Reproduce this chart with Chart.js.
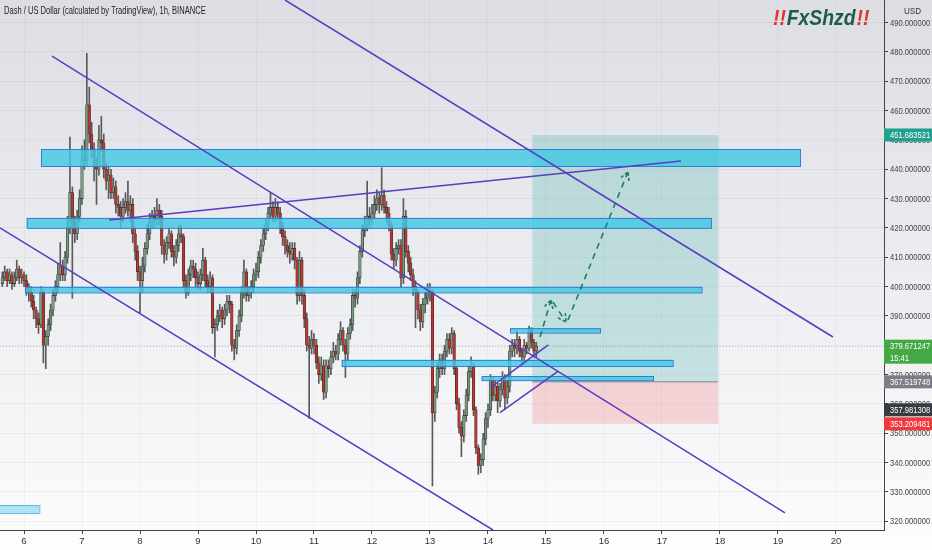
<!DOCTYPE html>
<html>
<head>
<meta charset="utf-8">
<title>DASHUSD 1h</title>
<script src="https://cdn.jsdelivr.net/npm/chart.js@4.4.1/dist/chart.umd.min.js"></script>
<style>
  html, body { margin: 0; padding: 0; background: #fff; }
  #wrap { width: 932px; height: 550px; }
</style>
</head>
<body>
<div id="wrap"><canvas id="chart" width="932" height="550"></canvas></div>
<script>
// Dash / US Dollar, hourly candles, first candle Dec 5 15:00 (day 5.625)
const firstHour = 5.625;

// closes, one row per day
const closes = [
  403,405,402,404,401,403,406,403,404,
  402,399,398,395,392,389,387,398,380,383,387,392,397,400,404,407,404,410,420,432,422,418,424,430,
  444,443,462,452,447,441,440,450,449,440,436,438,432,434,428,427,424,427,429,426,428,418,412,405,
  402,407,413,418,422,424,423,426,424,414,411,415,418,412,410,414,418,417,402,398,404,407,406,403,
  401,404,409,402,400,403,386,387,390,392,389,392,395,394,380,379,385,390,398,405,397,398,400,404,
  405,410,414,418,421,425,427,424,427,425,420,417,414,412,411,413,409,397,409,397,389,380,379,382,
  380,374,370,373,364,373,372,376,378,377,382,385,380,377,384,387,397,396,403,412,419,421,424,423,
  425,428,430,428,431,427,425,421,411,409,413,414,403,424,412,408,404,400,398,392,388,394,396,398,
  398.5,357,364,372,375,372,378,382,379,384,372,360,352,349,356,363,371,373,358,345,339,341,348,355,
  358,368,363,366,361,365,369,362,366,378,380,379,382,378,376,380,379,385,381,378,379.671247
];
const highs = [
  405,407,406,406,405,405,409,407,406,
  405,404,401,400,397,393,391,400,399,385,389,394,399,402,408,415,409,412,424,451,434,424,426,433,
  448,450,479.5,468,456,449,444,455,458,452,442,441,440,437,436,431,429,430,432,436,431,430,420,414,
  407,410,415,421,425,426,427,430,428,426,416,417,420,419,414,416,421,421,418,404,406,409,409,408,
  405,406,413,410,404,405,404,389,392,394,393,394,397,397,395,382,387,392,400,409,406,400,402,406,
  408,412,416,420,423,427,432,429,430,429,427,422,419,416,415,415,415,410,412,410,399,391,383,385,
  384,382,376,376,375,375,375,378,381,380,384,388,386,382,386,389,399,399,405,414,421,424,436,427,
  428,431,433,432,440.5,433,429,427,422,413,415,416,416,430,426,414,410,406,402,399,394,396,398,401,
  401,399,366,374,377,377,380,384,384,386,385,373,362,354,358,365,373,376,374,359,346,343,350,357,
  360,370,369,368,367,367,371,370,368,380,382,382,385,383,379,382,381,386.5,386,382,381
];
const lows = [
  400,402,400,401,399,400,402,401,401,
  400,397,395,393,389,386,384,386,374,372,380,385,390,395,398,402,402,402,408,418,396,415,416,422,
  428,440,441,449,444,436,428,438,446,437,433,430,430,430,425,424,420,422,425,424,422,415,409,402,
  391,398,405,411,416,420,420,421,421,411,408,409,413,410,407,408,412,415,400,396,397,402,403,400,
  399,399,402,400,398,398,384,376,385,388,386,387,390,391,378,375,377,383,388,396,395,395,396,398,
  402,403,408,412,416,419,423,422,422,423,418,414,411,410,408,409,406,394,395,394,386,378,355,377,
  377,372,367,368,361.5,362,369,370,374,375,375,380,378,369,375,382,385,393,394,401,410,417,419,420,
  421,423,426,425,426,425,422,419,409,406,407,411,400,401,410,405,402,397,386,389,385,386,391,394,
  395,332,354,362,369,370,370,376,377,377,370,358,350,342,347,354,361,369,356,343,336,336.5,339,346,
  352,356,361,361,357,359,363,358,360,364,376,376,377,376,373,374,377,378,379,376,376
];
const firstOpen = 401;

// axis
const dayTicks = [6, 7, 8, 9, 10, 11, 12, 13, 14, 15, 16, 17, 18, 19, 20];

// drawings: [day, price] end points
const trendLines = [
  [[10.5, 497.7], [19.948, 382.8]],
  [[6.483, 478.6], [19.121, 322.8]],
  [[5.586, 420.0], [14.086, 317.0]],
  [[7.466, 422.7], [17.328, 442.8]],
  [[14.064, 365.9], [15.040, 380.1]],
  [[14.207, 357.0], [15.212, 371.2]]
];
// zones: [dayFrom, dayTo, priceTop, priceBottom]
const zones = [
  [6.293, 19.379, 446.9, 441.1],
  [6.047, 17.845, 423.4, 420.0],
  [6.017, 17.681, 399.9, 398.0],
  [14.379, 15.931, 385.8, 384.3],
  [11.478, 17.184, 375.0, 372.9],
  [13.891, 16.845, 369.5, 368.1]
];
const oldZone = [5.5, 6.264, 325.5, 322.8];
// long position
const posFrom = 14.764, posTo = 17.97;
const posTarget = 451.683521, posEntry = 367.519748, posStop = 353.209481;
const lastPrice = 379.671247;
const projection = [
  [[14.897, 382.8], [15.086, 395.4]],
  [[15.121, 394.7], [15.345, 387.9]],
  [[15.379, 388.6], [16.414, 439.1]]
];
const priceLabels = [
  [451.683521, '451.683521', '#22a08e'],
  [367.519748, '367.519748', '#7b7e87'],
  [357.981308, '357.981308', '#383b43'],
  [353.209481, '353.209481', '#f0393d'],
  [379.671247, '379.671247', '#45a847']
];

const times = closes.map((c, i) => firstHour + i / 24);
const opens = closes.map((c, i) => i === 0 ? firstOpen : closes[i - 1]);

const fontFamily = "'Liberation Sans', Arial, sans-serif";

// text squeezed horizontally, the TradingView font is narrow
function squeezed(ctx, text, x, y, sx) {
  ctx.save();
  ctx.translate(x, y);
  ctx.scale(sx, 1);
  ctx.fillText(text, 0, 0);
  ctx.restore();
}

const overlay = {
  id: 'overlay',
  beforeDraw(chart) {
    const ctx = chart.ctx;
    const g = ctx.createLinearGradient(0, 0, 0, 530);
    g.addColorStop(0, '#dcdee4');
    g.addColorStop(1, '#fbfbfc');
    ctx.save();
    ctx.fillStyle = g;
    ctx.fillRect(0, 0, chart.width, 530);
    ctx.fillStyle = '#fdfdfd';
    ctx.fillRect(0, 530, chart.width, chart.height - 530);
    ctx.restore();
  },
  beforeDatasetsDraw(chart) {
    const ctx = chart.ctx, xs = chart.scales.x, ys = chart.scales.y, a = chart.chartArea;
    ctx.save();
    ctx.beginPath();
    ctx.rect(a.left, a.top, a.right - a.left, a.bottom - a.top);
    ctx.clip();
    const x0 = xs.getPixelForValue(posFrom), x1 = xs.getPixelForValue(posTo);
    const yT = ys.getPixelForValue(posTarget), yE = ys.getPixelForValue(posEntry), yS = ys.getPixelForValue(posStop);
    ctx.fillStyle = 'rgba(38,166,154,0.22)';
    ctx.fillRect(x0, yT, x1 - x0, yE - yT);
    ctx.fillStyle = 'rgba(242,54,69,0.18)';
    ctx.fillRect(x0, yE, x1 - x0, yS - yE);
    ctx.strokeStyle = 'rgba(110,112,120,0.8)';
    ctx.lineWidth = 1;
    ctx.beginPath();
    ctx.moveTo(x0, yE); ctx.lineTo(x1, yE);
    ctx.stroke();
    // last price line
    const yL = Math.round(ys.getPixelForValue(lastPrice)) + 0.5;
    ctx.strokeStyle = 'rgba(120,120,120,0.45)';
    ctx.setLineDash([1, 2]);
    ctx.beginPath();
    ctx.moveTo(a.left, yL); ctx.lineTo(a.right, yL);
    ctx.stroke();
    ctx.restore();
  },
  afterDatasetsDraw(chart) {
    const ctx = chart.ctx, xs = chart.scales.x, ys = chart.scales.y, a = chart.chartArea;
    const px = v => xs.getPixelForValue(v), py = v => ys.getPixelForValue(v);
    ctx.save();
    ctx.beginPath();
    ctx.rect(a.left, a.top, a.right - a.left, a.bottom - a.top);
    ctx.clip();

    // zones
    ctx.lineWidth = 1;
    zones.forEach(z => {
      const x0 = px(z[0]), x1 = px(z[1]), y0 = py(z[2]), y1 = py(z[3]);
      ctx.fillStyle = 'rgba(66,200,226,0.82)';
      ctx.fillRect(x0, y0, x1 - x0, y1 - y0);
      ctx.strokeStyle = '#2f7fd6';
      ctx.strokeRect(x0 + 0.5, y0 + 0.5, x1 - x0, y1 - y0);
    });
    {
      const x0 = px(oldZone[0]), x1 = px(oldZone[1]), y0 = py(oldZone[2]), y1 = py(oldZone[3]);
      ctx.fillStyle = 'rgba(120,214,238,0.6)';
      ctx.fillRect(x0, y0, x1 - x0, y1 - y0);
      ctx.strokeStyle = 'rgba(60,160,215,0.7)';
      ctx.strokeRect(x0 + 0.5, y0 + 0.5, x1 - x0, y1 - y0);
    }

    // trend lines
    ctx.strokeStyle = '#5a3cc2';
    ctx.lineWidth = 1.5;
    trendLines.forEach(l => {
      ctx.beginPath();
      ctx.moveTo(px(l[0][0]), py(l[0][1]));
      ctx.lineTo(px(l[1][0]), py(l[1][1]));
      ctx.stroke();
    });

    // projected path
    ctx.strokeStyle = '#1f7d62';
    ctx.lineWidth = 1.6;
    projection.forEach(p => {
      const x1 = px(p[0][0]), y1 = py(p[0][1]), x2 = px(p[1][0]), y2 = py(p[1][1]);
      ctx.setLineDash([6, 5]);
      ctx.beginPath();
      ctx.moveTo(x1, y1); ctx.lineTo(x2, y2);
      ctx.stroke();
      const ang = Math.atan2(y2 - y1, x2 - x1), L = 9;
      ctx.setLineDash([3, 2]);
      ctx.beginPath();
      ctx.moveTo(x2 - L * Math.cos(ang - 0.5), y2 - L * Math.sin(ang - 0.5));
      ctx.lineTo(x2, y2);
      ctx.lineTo(x2 - L * Math.cos(ang + 0.5), y2 - L * Math.sin(ang + 0.5));
      ctx.stroke();
    });
    ctx.restore();
  },
  afterDraw(chart) {
    const ctx = chart.ctx, ys = chart.scales.y;
    const left = chart.chartArea.right;
    ctx.save();
    ctx.font = '9.5px ' + fontFamily;
    ctx.textBaseline = 'middle';
    ctx.textAlign = 'left';

    // price scale labels
    ctx.fillStyle = '#444';
    ys.ticks.forEach(t => {
      squeezed(ctx, t.value.toFixed(6), left + 6, ys.getPixelForValue(t.value) + 0.5, 0.8);
    });

    priceLabels.forEach(p => {
      const y = ys.getPixelForValue(p[0]);
      const two = p[0] === lastPrice;
      ctx.fillStyle = p[2];
      ctx.fillRect(left, y - 6.5, 48, two ? 24 : 13);
      ctx.fillStyle = '#ffffff';
      squeezed(ctx, p[1], left + 6, y + 0.5, 0.8);
      if (two) squeezed(ctx, '15:41', left + 6, y + 12, 0.8);
    });
    ctx.fillStyle = '#333';
    squeezed(ctx, 'USD', left + 20, 11, 0.85);

    // title
    ctx.font = '10.5px ' + fontFamily;
    ctx.fillStyle = '#222';
    squeezed(ctx, 'Dash / US Dollar (calculated by TradingView), 1h, BINANCE', 4, 11, 0.72);

    // logo
    ctx.font = 'italic bold 22px ' + fontFamily;
    ctx.textBaseline = 'alphabetic';
    const sx = 0.88;
    let x = 773;
    ctx.fillStyle = '#e5322d';
    squeezed(ctx, '!!', x, 25, sx);
    x += (ctx.measureText('!!').width + 1) * sx;
    ctx.fillStyle = '#1d5c4d';
    squeezed(ctx, 'FxShzd', x, 25, sx);
    x += (ctx.measureText('FxShzd').width + 1) * sx;
    ctx.fillStyle = '#e5322d';
    squeezed(ctx, '!!', x, 25, sx);
    ctx.restore();
  }
};

new Chart(document.getElementById('chart'), {
  type: 'bar',
  data: {
    datasets: [
      {
        label: 'wicks',
        data: times.map((t, i) => ({ x: t, y: [lows[i], highs[i]] })),
        backgroundColor: '#5a5a5a',
        barThickness: 1,
        grouped: false,
        order: 2
      },
      {
        label: 'DASHUSD',
        data: times.map((t, i) => ({ x: t, y: [opens[i], closes[i]] })),
        backgroundColor: ctx => closes[ctx.dataIndex] >= opens[ctx.dataIndex] ? '#759a80' : '#c0342b',
        borderColor: '#2e2e2e',
        borderWidth: 0.6,
        borderSkipped: false,
        barThickness: 2.6,
        minBarLength: 1,
        grouped: false,
        order: 1
      }
    ]
  },
  options: {
    responsive: false,
    animation: false,
    layout: { padding: 0 },
    plugins: { legend: { display: false }, tooltip: { enabled: false } },
    scales: {
      x: {
        type: 'linear',
        offset: false,
        min: 5.586,
        max: 20.828,
        afterBuildTicks: s => { s.ticks = dayTicks.map(v => ({ value: v })); },
        afterFit: s => { s.height = 20; s.paddingLeft = 0; s.paddingRight = 0; },
        ticks: {
          autoSkip: false, maxRotation: 0, padding: 2,
          color: '#333', font: { size: 9.5, family: fontFamily },
          callback: v => String(v)
        },
        grid: { offset: false, color: 'rgba(0,0,0,0.03)', tickLength: 4, tickColor: '#444' },
        border: { color: '#444', width: 1 }
      },
      y: {
        position: 'right',
        min: 317.0,
        max: 497.7,
        afterFit: s => { s.width = 48; s.paddingTop = 0; s.paddingBottom = 0; },
        ticks: {
          display: false,
          stepSize: 10, includeBounds: false
        },
        grid: { color: 'rgba(0,0,0,0.045)', tickLength: 4, tickColor: '#444' },
        border: { color: '#444', width: 1 }
      }
    }
  },
  plugins: [overlay]
});
</script>
</body>
</html>
